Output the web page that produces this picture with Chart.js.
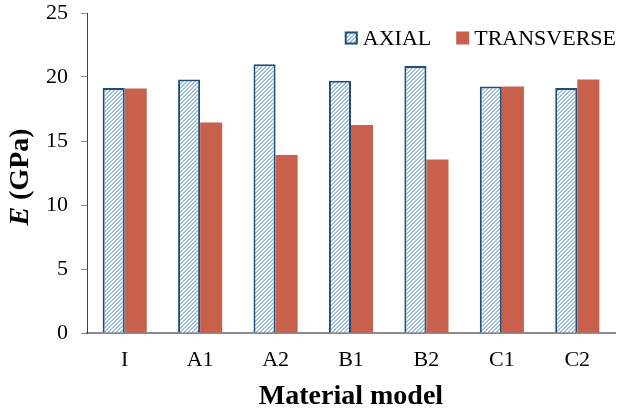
<!DOCTYPE html>
<html>
<head>
<meta charset="utf-8">
<script src="https://cdn.jsdelivr.net/npm/chart.js@4/dist/chart.umd.min.js"></script>
<style>
  html, body { margin: 0; padding: 0; background: #fff; }
  #wrap { width: 629px; height: 414px; }
</style>
</head>
<body>
<div id="wrap"><canvas id="chart" width="629" height="414"></canvas></div>
<script>
// data
const models = ['I', 'A1', 'A2', 'B1', 'B2', 'C1', 'C2'];
const axial = [19.15, 19.8, 21.0, 19.7, 20.85, 19.25, 19.15];
const transverse = [19.1, 16.45, 13.9, 16.25, 13.55, 19.25, 19.8];
const yTicks = [0, 5, 10, 15, 20, 25];

const serif = "'Liberation Serif'";

// hatch ("////") for the axial bars
function makeHatch() {
    const size = 4;
    const c = document.createElement('canvas');
    c.width = size;
    c.height = size;
    const g = c.getContext('2d');
    g.fillStyle = '#ffffff';
    g.fillRect(0, 0, size, size);
    g.fillStyle = '#9dbfe6';
    for (let i = 0; i < size; i++) {
        g.fillRect(i, size - 1 - i, 1, 1);
        g.fillRect((i + 1) % size, size - 1 - i, 1, 1);
    }
    return g.createPattern(c, 'repeat');
}

// y title: italic "E" + " (GPa)"
const yTitlePlugin = {
    id: 'yTitle',
    afterDraw(chart) {
        const ctx = chart.ctx;
        const area = chart.chartArea;
        const cy = (area.top + area.bottom) / 2 + 4;
        ctx.save();
        ctx.translate(21, cy);
        ctx.rotate(-Math.PI / 2);
        ctx.fillStyle = '#000';
        ctx.textBaseline = 'middle';
        const partE = 'E';
        const partRest = ' (GPa)';
        ctx.font = 'italic bold 28px ' + serif;
        const wE = ctx.measureText(partE).width;
        ctx.font = 'bold 28px ' + serif;
        const wR = ctx.measureText(partRest).width;
        const x = -(wE + wR) / 2;
        ctx.textAlign = 'left';
        ctx.font = 'italic bold 28px ' + serif;
        ctx.fillText(partE, x, 0);
        ctx.font = 'bold 28px ' + serif;
        ctx.fillText(partRest, x + wE, 0);
        ctx.restore();
    }
};

// legend inside the plot, top right
const insideLegend = {
    id: 'insideLegend',
    afterDraw(chart) {
        const ctx = chart.ctx;
        const area = chart.chartArea;
        const box = 13;
        const gapText = 5;
        const gapItem = 25;
        const cy = area.top + 25;
        ctx.save();
        ctx.font = '22px ' + serif;
        ctx.textBaseline = 'middle';
        ctx.textAlign = 'left';
        const items = chart.data.datasets.map(ds => ({
            ds: ds,
            w: ctx.measureText(ds.label).width
        }));
        let total = 0;
        items.forEach((it, i) => {
            total += box + gapText + it.w + (i > 0 ? gapItem : 0);
        });
        let x = area.right + 1 - total;
        items.forEach(it => {
            const ds = it.ds;
            ctx.fillStyle = ds.backgroundColor;
            ctx.fillRect(x, cy - box / 2, box, box);
            if (ds.borderWidth) {
                ctx.strokeStyle = ds.borderColor;
                ctx.lineWidth = 2;
                ctx.strokeRect(x + 1, cy - box / 2 + 1, box - 2, box - 2);
            }
            x += box + gapText;
            ctx.fillStyle = '#000';
            ctx.fillText(ds.label, x, cy + 1);
            x += it.w + gapItem;
        });
        ctx.restore();
    }
};

const ctx = document.getElementById('chart');
new Chart(ctx, {
    type: 'bar',
    data: {
        labels: models,
        datasets: [
            {
                label: 'AXIAL',
                data: axial,
                backgroundColor: makeHatch(),
                borderColor: '#1f4e79',
                borderWidth: 2,
                borderSkipped: 'bottom'
            },
            {
                label: 'TRANSVERSE',
                data: transverse,
                backgroundColor: '#c8604c',
                borderWidth: 0
            }
        ]
    },
    options: {
        responsive: false,
        animation: false,
        devicePixelRatio: 1,
        layout: {
            padding: { left: 33, right: 14, top: 1, bottom: 0 }
        },
        datasets: {
            bar: {
                categoryPercentage: 0.585,
                barPercentage: 1.0
            }
        },
        plugins: {
            legend: { display: false },
            tooltip: { enabled: false }
        },
        scales: {
            x: {
                grid: { display: false, drawTicks: false },
                border: { display: true, color: '#8c8c8c', width: 2 },
                ticks: {
                    color: '#000',
                    padding: 14,
                    font: { family: serif, size: 22 }
                },
                title: {
                    display: true,
                    text: 'Material model',
                    color: '#000',
                    padding: { top: -7, bottom: 0 },
                    font: { family: serif, size: 28, weight: 'bold' }
                }
            },
            y: {
                min: 0,
                max: 25,
                afterBuildTicks: axis => {
                    axis.ticks = yTicks.map(v => ({ value: v }));
                },
                grid: {
                    drawOnChartArea: false,
                    drawTicks: true,
                    tickLength: 6,
                    color: '#8c8c8c'
                },
                border: { display: true, color: '#404040', width: 1 },
                ticks: {
                    color: '#000',
                    padding: 13,
                    font: { family: serif, size: 22, lineHeight: 0 }
                }
            }
        }
    },
    plugins: [yTitlePlugin, insideLegend]
});
</script>
</body>
</html>
